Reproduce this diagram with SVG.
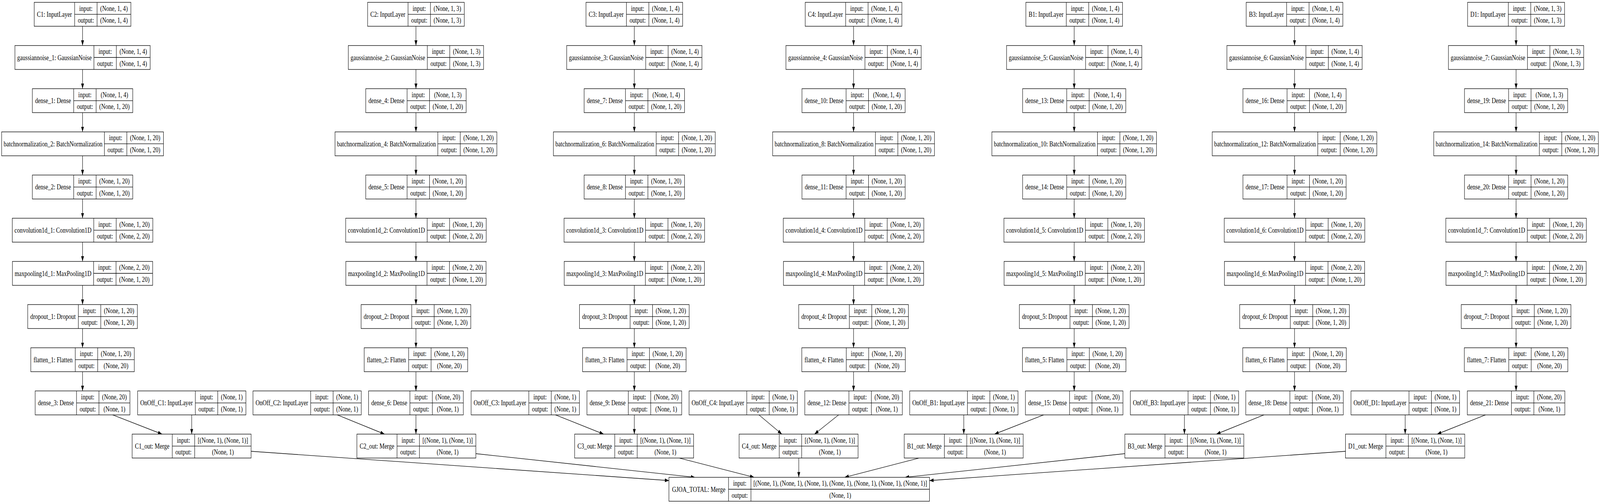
<svg xmlns="http://www.w3.org/2000/svg" width="5243" height="1291" viewBox="0 0 5243 1291" preserveAspectRatio="none" style="display:block;width:100vw;height:100vh">
<style>
.n rect{fill:#fff;stroke:#000;stroke-width:1.33}
.n path{fill:none;stroke:#000;stroke-width:1.33}
.n text{font-family:"Liberation Serif","Times New Roman",serif;font-size:18.67px;text-anchor:middle;fill:#000}
#edges line{stroke:#000;stroke-width:1.33;marker-end:url(#ah)}
</style>
<defs>
<marker id="ah" markerUnits="userSpaceOnUse" markerWidth="14" markerHeight="10" viewBox="0 0 14 10" refX="13.3" refY="5" orient="auto"><path d="M0,0.3L13.3,5L0,9.7z" fill="#000"/></marker>
</defs>
<rect width="5243" height="1291" fill="#fff"/>
<g id="edges">
<line x1="270.5" y1="67.3" x2="270.5" y2="116.6"/><line x1="270.5" y1="177.9" x2="270.5" y2="227.2"/><line x1="270.5" y1="288.5" x2="270.5" y2="337.8"/><line x1="270.5" y1="399.1" x2="270.5" y2="448.4"/><line x1="270.5" y1="509.7" x2="270.5" y2="559"/><line x1="270.5" y1="620.3" x2="270.5" y2="669.6"/><line x1="270.5" y1="730.9" x2="270.5" y2="780.2"/><line x1="270.5" y1="841.5" x2="270.5" y2="890.8"/><line x1="270.5" y1="952.1" x2="270.5" y2="1001.4"/>
<line x1="1363" y1="67.3" x2="1363" y2="116.6"/><line x1="1363" y1="177.9" x2="1363" y2="227.2"/><line x1="1363" y1="288.5" x2="1363" y2="337.8"/><line x1="1363" y1="399.1" x2="1363" y2="448.4"/><line x1="1363" y1="509.7" x2="1363" y2="559"/><line x1="1363" y1="620.3" x2="1363" y2="669.6"/><line x1="1363" y1="730.9" x2="1363" y2="780.2"/><line x1="1363" y1="841.5" x2="1363" y2="890.8"/><line x1="1363" y1="952.1" x2="1363" y2="1001.4"/>
<line x1="2078.6" y1="67.3" x2="2078.6" y2="116.6"/><line x1="2078.6" y1="177.9" x2="2078.6" y2="227.2"/><line x1="2078.6" y1="288.5" x2="2078.6" y2="337.8"/><line x1="2078.6" y1="399.1" x2="2078.6" y2="448.4"/><line x1="2078.6" y1="509.7" x2="2078.6" y2="559"/><line x1="2078.6" y1="620.3" x2="2078.6" y2="669.6"/><line x1="2078.6" y1="730.9" x2="2078.6" y2="780.2"/><line x1="2078.6" y1="841.5" x2="2078.6" y2="890.8"/><line x1="2078.6" y1="952.1" x2="2078.6" y2="1001.4"/>
<line x1="2797" y1="67.3" x2="2797" y2="116.6"/><line x1="2797" y1="177.9" x2="2797" y2="227.2"/><line x1="2797" y1="288.5" x2="2797" y2="337.8"/><line x1="2797" y1="399.1" x2="2797" y2="448.4"/><line x1="2797" y1="509.7" x2="2797" y2="559"/><line x1="2797" y1="620.3" x2="2797" y2="669.6"/><line x1="2797" y1="730.9" x2="2797" y2="780.2"/><line x1="2797" y1="841.5" x2="2797" y2="890.8"/><line x1="2797" y1="952.1" x2="2797" y2="1001.4"/>
<line x1="3520" y1="67.3" x2="3520" y2="116.6"/><line x1="3520" y1="177.9" x2="3520" y2="227.2"/><line x1="3520" y1="288.5" x2="3520" y2="337.8"/><line x1="3520" y1="399.1" x2="3520" y2="448.4"/><line x1="3520" y1="509.7" x2="3520" y2="559"/><line x1="3520" y1="620.3" x2="3520" y2="669.6"/><line x1="3520" y1="730.9" x2="3520" y2="780.2"/><line x1="3520" y1="841.5" x2="3520" y2="890.8"/><line x1="3520" y1="952.1" x2="3520" y2="1001.4"/>
<line x1="4242" y1="67.3" x2="4242" y2="116.6"/><line x1="4242" y1="177.9" x2="4242" y2="227.2"/><line x1="4242" y1="288.5" x2="4242" y2="337.8"/><line x1="4242" y1="399.1" x2="4242" y2="448.4"/><line x1="4242" y1="509.7" x2="4242" y2="559"/><line x1="4242" y1="620.3" x2="4242" y2="669.6"/><line x1="4242" y1="730.9" x2="4242" y2="780.2"/><line x1="4242" y1="841.5" x2="4242" y2="890.8"/><line x1="4242" y1="952.1" x2="4242" y2="1001.4"/>
<line x1="4968" y1="67.3" x2="4968" y2="116.6"/><line x1="4968" y1="177.9" x2="4968" y2="227.2"/><line x1="4968" y1="288.5" x2="4968" y2="337.8"/><line x1="4968" y1="399.1" x2="4968" y2="448.4"/><line x1="4968" y1="509.7" x2="4968" y2="559"/><line x1="4968" y1="620.3" x2="4968" y2="669.6"/><line x1="4968" y1="730.9" x2="4968" y2="780.2"/><line x1="4968" y1="841.5" x2="4968" y2="890.8"/><line x1="4968" y1="952.1" x2="4968" y2="1001.4"/>
<line x1="369" y1="1062.7" x2="531" y2="1112"/>
<line x1="628.2" y1="1062.7" x2="628.2" y2="1112"/>
<line x1="1105" y1="1062.7" x2="1260" y2="1112"/>
<line x1="1363" y1="1062.7" x2="1363" y2="1112"/>
<line x1="1820" y1="1062.7" x2="1978" y2="1112"/>
<line x1="2078.6" y1="1062.7" x2="2078.6" y2="1112"/>
<line x1="2487" y1="1062.7" x2="2562" y2="1112"/>
<line x1="2748" y1="1062.7" x2="2669" y2="1112"/>
<line x1="3158.2" y1="1062.7" x2="3158.2" y2="1112"/>
<line x1="3420" y1="1062.7" x2="3259" y2="1112"/>
<line x1="3881.2" y1="1062.7" x2="3881.2" y2="1112"/>
<line x1="4142" y1="1062.7" x2="3986" y2="1112"/>
<line x1="4604.6" y1="1062.7" x2="4604.6" y2="1112"/>
<line x1="4868" y1="1062.7" x2="4709.5" y2="1112"/>
<line x1="823" y1="1156" x2="2192" y2="1231"/>
<line x1="1559" y1="1162" x2="2277" y2="1222.6"/>
<line x1="2226" y1="1173.3" x2="2471" y2="1222.6"/>
<line x1="2617.5" y1="1173.3" x2="2617.5" y2="1222.6"/>
<line x1="3011.5" y1="1173.3" x2="2768" y2="1222.6"/>
<line x1="3686" y1="1162" x2="2966" y2="1222.6"/>
<line x1="4409" y1="1156" x2="3045.8" y2="1231"/>
</g>

<g id="C1" class="n" transform="translate(112.1,6)"><rect width="316.75" height="61.3"/><path d="M132.5 0V61.3M206 0V61.3M132.5 30.65H316.75"/><text x="66.25" y="37">C1: InputLayer</text><text x="169.25" y="21.6">input:</text><text x="169.25" y="52.3">output:</text><text x="261.4" y="21.6">(None, 1, 4)</text><text x="261.4" y="52.3">(None, 1, 4)</text></g>
<g id="gaussiannoise_1" class="n" transform="translate(48.9,116.6)"><rect width="443.15" height="61.3"/><path d="M258.9 0V61.3M332.4 0V61.3M258.9 30.65H443.15"/><text x="129.45" y="37">gaussiannoise_1: GaussianNoise</text><text x="295.65" y="21.6">input:</text><text x="295.65" y="52.3">output:</text><text x="387.8" y="21.6">(None, 1, 4)</text><text x="387.8" y="52.3">(None, 1, 4)</text></g>
<g id="dense_1" class="n" transform="translate(106,227.2)"><rect width="329" height="61.3"/><path d="M135.5 0V61.3M209 0V61.3M135.5 30.65H329"/><text x="67.75" y="37">dense_1: Dense</text><text x="172.25" y="21.6">input:</text><text x="172.25" y="52.3">output:</text><text x="269" y="21.6">(None, 1, 4)</text><text x="269" y="52.3">(None, 1, 20)</text></g>
<g id="batchnormalization_2" class="n" transform="translate(5.35,337.8)"><rect width="530.3" height="61.3"/><path d="M336.8 0V61.3M410.3 0V61.3M336.8 30.65H530.3"/><text x="168.4" y="37">batchnormalization_2: BatchNormalization</text><text x="373.55" y="21.6">input:</text><text x="373.55" y="52.3">output:</text><text x="470.3" y="21.6">(None, 1, 20)</text><text x="470.3" y="52.3">(None, 1, 20)</text></g>
<g id="dense_2" class="n" transform="translate(106,448.4)"><rect width="329" height="61.3"/><path d="M135.5 0V61.3M209 0V61.3M135.5 30.65H329"/><text x="67.75" y="37">dense_2: Dense</text><text x="172.25" y="21.6">input:</text><text x="172.25" y="52.3">output:</text><text x="269" y="21.6">(None, 1, 20)</text><text x="269" y="52.3">(None, 1, 20)</text></g>
<g id="convolution1d_1" class="n" transform="translate(40.25,559)"><rect width="460.5" height="61.3"/><path d="M267 0V61.3M340.5 0V61.3M267 30.65H460.5"/><text x="133.5" y="37">convolution1d_1: Convolution1D</text><text x="303.75" y="21.6">input:</text><text x="303.75" y="52.3">output:</text><text x="400.5" y="21.6">(None, 1, 20)</text><text x="400.5" y="52.3">(None, 2, 20)</text></g>
<g id="maxpooling1d_1" class="n" transform="translate(40.75,669.6)"><rect width="459.5" height="61.3"/><path d="M266 0V61.3M339.5 0V61.3M266 30.65H459.5"/><text x="133" y="37">maxpooling1d_1: MaxPooling1D</text><text x="302.75" y="21.6">input:</text><text x="302.75" y="52.3">output:</text><text x="399.5" y="21.6">(None, 2, 20)</text><text x="399.5" y="52.3">(None, 1, 20)</text></g>
<g id="dropout_1" class="n" transform="translate(90.8,780.2)"><rect width="359.4" height="61.3"/><path d="M165.9 0V61.3M239.4 0V61.3M165.9 30.65H359.4"/><text x="82.95" y="37">dropout_1: Dropout</text><text x="202.65" y="21.6">input:</text><text x="202.65" y="52.3">output:</text><text x="299.4" y="21.6">(None, 1, 20)</text><text x="299.4" y="52.3">(None, 1, 20)</text></g>
<g id="flatten_1" class="n" transform="translate(100.9,890.8)"><rect width="339.2" height="61.3"/><path d="M145.7 0V61.3M219.2 0V61.3M145.7 30.65H339.2"/><text x="72.85" y="37">flatten_1: Flatten</text><text x="182.45" y="21.6">input:</text><text x="182.45" y="52.3">output:</text><text x="279.2" y="21.6">(None, 1, 20)</text><text x="279.2" y="52.3">(None, 20)</text></g>
<g id="dense_3" class="n" transform="translate(115.25,1001.4)"><rect width="310.5" height="61.3"/><path d="M135.5 0V61.3M209 0V61.3M135.5 30.65H310.5"/><text x="67.75" y="37">dense_3: Dense</text><text x="172.25" y="21.6">input:</text><text x="172.25" y="52.3">output:</text><text x="259.75" y="21.6">(None, 20)</text><text x="259.75" y="52.3">(None, 1)</text></g>

<g id="C2" class="n" transform="translate(1204.6,6)"><rect width="316.75" height="61.3"/><path d="M132.5 0V61.3M206 0V61.3M132.5 30.65H316.75"/><text x="66.25" y="37">C2: InputLayer</text><text x="169.25" y="21.6">input:</text><text x="169.25" y="52.3">output:</text><text x="261.4" y="21.6">(None, 1, 3)</text><text x="261.4" y="52.3">(None, 1, 3)</text></g>
<g id="gaussiannoise_2" class="n" transform="translate(1141.4,116.6)"><rect width="443.15" height="61.3"/><path d="M258.9 0V61.3M332.4 0V61.3M258.9 30.65H443.15"/><text x="129.45" y="37">gaussiannoise_2: GaussianNoise</text><text x="295.65" y="21.6">input:</text><text x="295.65" y="52.3">output:</text><text x="387.8" y="21.6">(None, 1, 3)</text><text x="387.8" y="52.3">(None, 1, 3)</text></g>
<g id="dense_4" class="n" transform="translate(1198.5,227.2)"><rect width="329" height="61.3"/><path d="M135.5 0V61.3M209 0V61.3M135.5 30.65H329"/><text x="67.75" y="37">dense_4: Dense</text><text x="172.25" y="21.6">input:</text><text x="172.25" y="52.3">output:</text><text x="269" y="21.6">(None, 1, 3)</text><text x="269" y="52.3">(None, 1, 20)</text></g>
<g id="batchnormalization_4" class="n" transform="translate(1097.85,337.8)"><rect width="530.3" height="61.3"/><path d="M336.8 0V61.3M410.3 0V61.3M336.8 30.65H530.3"/><text x="168.4" y="37">batchnormalization_4: BatchNormalization</text><text x="373.55" y="21.6">input:</text><text x="373.55" y="52.3">output:</text><text x="470.3" y="21.6">(None, 1, 20)</text><text x="470.3" y="52.3">(None, 1, 20)</text></g>
<g id="dense_5" class="n" transform="translate(1198.5,448.4)"><rect width="329" height="61.3"/><path d="M135.5 0V61.3M209 0V61.3M135.5 30.65H329"/><text x="67.75" y="37">dense_5: Dense</text><text x="172.25" y="21.6">input:</text><text x="172.25" y="52.3">output:</text><text x="269" y="21.6">(None, 1, 20)</text><text x="269" y="52.3">(None, 1, 20)</text></g>
<g id="convolution1d_2" class="n" transform="translate(1132.75,559)"><rect width="460.5" height="61.3"/><path d="M267 0V61.3M340.5 0V61.3M267 30.65H460.5"/><text x="133.5" y="37">convolution1d_2: Convolution1D</text><text x="303.75" y="21.6">input:</text><text x="303.75" y="52.3">output:</text><text x="400.5" y="21.6">(None, 1, 20)</text><text x="400.5" y="52.3">(None, 2, 20)</text></g>
<g id="maxpooling1d_2" class="n" transform="translate(1133.25,669.6)"><rect width="459.5" height="61.3"/><path d="M266 0V61.3M339.5 0V61.3M266 30.65H459.5"/><text x="133" y="37">maxpooling1d_2: MaxPooling1D</text><text x="302.75" y="21.6">input:</text><text x="302.75" y="52.3">output:</text><text x="399.5" y="21.6">(None, 2, 20)</text><text x="399.5" y="52.3">(None, 1, 20)</text></g>
<g id="dropout_2" class="n" transform="translate(1183.3,780.2)"><rect width="359.4" height="61.3"/><path d="M165.9 0V61.3M239.4 0V61.3M165.9 30.65H359.4"/><text x="82.95" y="37">dropout_2: Dropout</text><text x="202.65" y="21.6">input:</text><text x="202.65" y="52.3">output:</text><text x="299.4" y="21.6">(None, 1, 20)</text><text x="299.4" y="52.3">(None, 1, 20)</text></g>
<g id="flatten_2" class="n" transform="translate(1193.4,890.8)"><rect width="339.2" height="61.3"/><path d="M145.7 0V61.3M219.2 0V61.3M145.7 30.65H339.2"/><text x="72.85" y="37">flatten_2: Flatten</text><text x="182.45" y="21.6">input:</text><text x="182.45" y="52.3">output:</text><text x="279.2" y="21.6">(None, 1, 20)</text><text x="279.2" y="52.3">(None, 20)</text></g>
<g id="dense_6" class="n" transform="translate(1207.75,1001.4)"><rect width="310.5" height="61.3"/><path d="M135.5 0V61.3M209 0V61.3M135.5 30.65H310.5"/><text x="67.75" y="37">dense_6: Dense</text><text x="172.25" y="21.6">input:</text><text x="172.25" y="52.3">output:</text><text x="259.75" y="21.6">(None, 20)</text><text x="259.75" y="52.3">(None, 1)</text></g>

<g id="C3" class="n" transform="translate(1920.2,6)"><rect width="316.75" height="61.3"/><path d="M132.5 0V61.3M206 0V61.3M132.5 30.65H316.75"/><text x="66.25" y="37">C3: InputLayer</text><text x="169.25" y="21.6">input:</text><text x="169.25" y="52.3">output:</text><text x="261.4" y="21.6">(None, 1, 4)</text><text x="261.4" y="52.3">(None, 1, 4)</text></g>
<g id="gaussiannoise_3" class="n" transform="translate(1857,116.6)"><rect width="443.15" height="61.3"/><path d="M258.9 0V61.3M332.4 0V61.3M258.9 30.65H443.15"/><text x="129.45" y="37">gaussiannoise_3: GaussianNoise</text><text x="295.65" y="21.6">input:</text><text x="295.65" y="52.3">output:</text><text x="387.8" y="21.6">(None, 1, 4)</text><text x="387.8" y="52.3">(None, 1, 4)</text></g>
<g id="dense_7" class="n" transform="translate(1914.1,227.2)"><rect width="329" height="61.3"/><path d="M135.5 0V61.3M209 0V61.3M135.5 30.65H329"/><text x="67.75" y="37">dense_7: Dense</text><text x="172.25" y="21.6">input:</text><text x="172.25" y="52.3">output:</text><text x="269" y="21.6">(None, 1, 4)</text><text x="269" y="52.3">(None, 1, 20)</text></g>
<g id="batchnormalization_6" class="n" transform="translate(1813.45,337.8)"><rect width="530.3" height="61.3"/><path d="M336.8 0V61.3M410.3 0V61.3M336.8 30.65H530.3"/><text x="168.4" y="37">batchnormalization_6: BatchNormalization</text><text x="373.55" y="21.6">input:</text><text x="373.55" y="52.3">output:</text><text x="470.3" y="21.6">(None, 1, 20)</text><text x="470.3" y="52.3">(None, 1, 20)</text></g>
<g id="dense_8" class="n" transform="translate(1914.1,448.4)"><rect width="329" height="61.3"/><path d="M135.5 0V61.3M209 0V61.3M135.5 30.65H329"/><text x="67.75" y="37">dense_8: Dense</text><text x="172.25" y="21.6">input:</text><text x="172.25" y="52.3">output:</text><text x="269" y="21.6">(None, 1, 20)</text><text x="269" y="52.3">(None, 1, 20)</text></g>
<g id="convolution1d_3" class="n" transform="translate(1848.35,559)"><rect width="460.5" height="61.3"/><path d="M267 0V61.3M340.5 0V61.3M267 30.65H460.5"/><text x="133.5" y="37">convolution1d_3: Convolution1D</text><text x="303.75" y="21.6">input:</text><text x="303.75" y="52.3">output:</text><text x="400.5" y="21.6">(None, 1, 20)</text><text x="400.5" y="52.3">(None, 2, 20)</text></g>
<g id="maxpooling1d_3" class="n" transform="translate(1848.85,669.6)"><rect width="459.5" height="61.3"/><path d="M266 0V61.3M339.5 0V61.3M266 30.65H459.5"/><text x="133" y="37">maxpooling1d_3: MaxPooling1D</text><text x="302.75" y="21.6">input:</text><text x="302.75" y="52.3">output:</text><text x="399.5" y="21.6">(None, 2, 20)</text><text x="399.5" y="52.3">(None, 1, 20)</text></g>
<g id="dropout_3" class="n" transform="translate(1898.9,780.2)"><rect width="359.4" height="61.3"/><path d="M165.9 0V61.3M239.4 0V61.3M165.9 30.65H359.4"/><text x="82.95" y="37">dropout_3: Dropout</text><text x="202.65" y="21.6">input:</text><text x="202.65" y="52.3">output:</text><text x="299.4" y="21.6">(None, 1, 20)</text><text x="299.4" y="52.3">(None, 1, 20)</text></g>
<g id="flatten_3" class="n" transform="translate(1909,890.8)"><rect width="339.2" height="61.3"/><path d="M145.7 0V61.3M219.2 0V61.3M145.7 30.65H339.2"/><text x="72.85" y="37">flatten_3: Flatten</text><text x="182.45" y="21.6">input:</text><text x="182.45" y="52.3">output:</text><text x="279.2" y="21.6">(None, 1, 20)</text><text x="279.2" y="52.3">(None, 20)</text></g>
<g id="dense_9" class="n" transform="translate(1923.35,1001.4)"><rect width="310.5" height="61.3"/><path d="M135.5 0V61.3M209 0V61.3M135.5 30.65H310.5"/><text x="67.75" y="37">dense_9: Dense</text><text x="172.25" y="21.6">input:</text><text x="172.25" y="52.3">output:</text><text x="259.75" y="21.6">(None, 20)</text><text x="259.75" y="52.3">(None, 1)</text></g>

<g id="C4" class="n" transform="translate(2638.6,6)"><rect width="316.75" height="61.3"/><path d="M132.5 0V61.3M206 0V61.3M132.5 30.65H316.75"/><text x="66.25" y="37">C4: InputLayer</text><text x="169.25" y="21.6">input:</text><text x="169.25" y="52.3">output:</text><text x="261.4" y="21.6">(None, 1, 4)</text><text x="261.4" y="52.3">(None, 1, 4)</text></g>
<g id="gaussiannoise_4" class="n" transform="translate(2575.4,116.6)"><rect width="443.15" height="61.3"/><path d="M258.9 0V61.3M332.4 0V61.3M258.9 30.65H443.15"/><text x="129.45" y="37">gaussiannoise_4: GaussianNoise</text><text x="295.65" y="21.6">input:</text><text x="295.65" y="52.3">output:</text><text x="387.8" y="21.6">(None, 1, 4)</text><text x="387.8" y="52.3">(None, 1, 4)</text></g>
<g id="dense_10" class="n" transform="translate(2627.95,227.2)"><rect width="338.1" height="61.3"/><path d="M144.6 0V61.3M218.1 0V61.3M144.6 30.65H338.1"/><text x="72.3" y="37">dense_10: Dense</text><text x="181.35" y="21.6">input:</text><text x="181.35" y="52.3">output:</text><text x="278.1" y="21.6">(None, 1, 4)</text><text x="278.1" y="52.3">(None, 1, 20)</text></g>
<g id="batchnormalization_8" class="n" transform="translate(2531.85,337.8)"><rect width="530.3" height="61.3"/><path d="M336.8 0V61.3M410.3 0V61.3M336.8 30.65H530.3"/><text x="168.4" y="37">batchnormalization_8: BatchNormalization</text><text x="373.55" y="21.6">input:</text><text x="373.55" y="52.3">output:</text><text x="470.3" y="21.6">(None, 1, 20)</text><text x="470.3" y="52.3">(None, 1, 20)</text></g>
<g id="dense_11" class="n" transform="translate(2627.95,448.4)"><rect width="338.1" height="61.3"/><path d="M144.6 0V61.3M218.1 0V61.3M144.6 30.65H338.1"/><text x="72.3" y="37">dense_11: Dense</text><text x="181.35" y="21.6">input:</text><text x="181.35" y="52.3">output:</text><text x="278.1" y="21.6">(None, 1, 20)</text><text x="278.1" y="52.3">(None, 1, 20)</text></g>
<g id="convolution1d_4" class="n" transform="translate(2566.75,559)"><rect width="460.5" height="61.3"/><path d="M267 0V61.3M340.5 0V61.3M267 30.65H460.5"/><text x="133.5" y="37">convolution1d_4: Convolution1D</text><text x="303.75" y="21.6">input:</text><text x="303.75" y="52.3">output:</text><text x="400.5" y="21.6">(None, 1, 20)</text><text x="400.5" y="52.3">(None, 2, 20)</text></g>
<g id="maxpooling1d_4" class="n" transform="translate(2567.25,669.6)"><rect width="459.5" height="61.3"/><path d="M266 0V61.3M339.5 0V61.3M266 30.65H459.5"/><text x="133" y="37">maxpooling1d_4: MaxPooling1D</text><text x="302.75" y="21.6">input:</text><text x="302.75" y="52.3">output:</text><text x="399.5" y="21.6">(None, 2, 20)</text><text x="399.5" y="52.3">(None, 1, 20)</text></g>
<g id="dropout_4" class="n" transform="translate(2617.3,780.2)"><rect width="359.4" height="61.3"/><path d="M165.9 0V61.3M239.4 0V61.3M165.9 30.65H359.4"/><text x="82.95" y="37">dropout_4: Dropout</text><text x="202.65" y="21.6">input:</text><text x="202.65" y="52.3">output:</text><text x="299.4" y="21.6">(None, 1, 20)</text><text x="299.4" y="52.3">(None, 1, 20)</text></g>
<g id="flatten_4" class="n" transform="translate(2627.4,890.8)"><rect width="339.2" height="61.3"/><path d="M145.7 0V61.3M219.2 0V61.3M145.7 30.65H339.2"/><text x="72.85" y="37">flatten_4: Flatten</text><text x="182.45" y="21.6">input:</text><text x="182.45" y="52.3">output:</text><text x="279.2" y="21.6">(None, 1, 20)</text><text x="279.2" y="52.3">(None, 20)</text></g>
<g id="dense_12" class="n" transform="translate(2637.2,1001.4)"><rect width="319.6" height="61.3"/><path d="M144.6 0V61.3M218.1 0V61.3M144.6 30.65H319.6"/><text x="72.3" y="37">dense_12: Dense</text><text x="181.35" y="21.6">input:</text><text x="181.35" y="52.3">output:</text><text x="268.85" y="21.6">(None, 20)</text><text x="268.85" y="52.3">(None, 1)</text></g>

<g id="B1" class="n" transform="translate(3361.6,6)"><rect width="316.75" height="61.3"/><path d="M132.5 0V61.3M206 0V61.3M132.5 30.65H316.75"/><text x="66.25" y="37">B1: InputLayer</text><text x="169.25" y="21.6">input:</text><text x="169.25" y="52.3">output:</text><text x="261.4" y="21.6">(None, 1, 4)</text><text x="261.4" y="52.3">(None, 1, 4)</text></g>
<g id="gaussiannoise_5" class="n" transform="translate(3298.4,116.6)"><rect width="443.15" height="61.3"/><path d="M258.9 0V61.3M332.4 0V61.3M258.9 30.65H443.15"/><text x="129.45" y="37">gaussiannoise_5: GaussianNoise</text><text x="295.65" y="21.6">input:</text><text x="295.65" y="52.3">output:</text><text x="387.8" y="21.6">(None, 1, 4)</text><text x="387.8" y="52.3">(None, 1, 4)</text></g>
<g id="dense_13" class="n" transform="translate(3350.95,227.2)"><rect width="338.1" height="61.3"/><path d="M144.6 0V61.3M218.1 0V61.3M144.6 30.65H338.1"/><text x="72.3" y="37">dense_13: Dense</text><text x="181.35" y="21.6">input:</text><text x="181.35" y="52.3">output:</text><text x="278.1" y="21.6">(None, 1, 4)</text><text x="278.1" y="52.3">(None, 1, 20)</text></g>
<g id="batchnormalization_10" class="n" transform="translate(3250.3,337.8)"><rect width="539.4" height="61.3"/><path d="M345.9 0V61.3M419.4 0V61.3M345.9 30.65H539.4"/><text x="172.95" y="37">batchnormalization_10: BatchNormalization</text><text x="382.65" y="21.6">input:</text><text x="382.65" y="52.3">output:</text><text x="479.4" y="21.6">(None, 1, 20)</text><text x="479.4" y="52.3">(None, 1, 20)</text></g>
<g id="dense_14" class="n" transform="translate(3350.95,448.4)"><rect width="338.1" height="61.3"/><path d="M144.6 0V61.3M218.1 0V61.3M144.6 30.65H338.1"/><text x="72.3" y="37">dense_14: Dense</text><text x="181.35" y="21.6">input:</text><text x="181.35" y="52.3">output:</text><text x="278.1" y="21.6">(None, 1, 20)</text><text x="278.1" y="52.3">(None, 1, 20)</text></g>
<g id="convolution1d_5" class="n" transform="translate(3289.75,559)"><rect width="460.5" height="61.3"/><path d="M267 0V61.3M340.5 0V61.3M267 30.65H460.5"/><text x="133.5" y="37">convolution1d_5: Convolution1D</text><text x="303.75" y="21.6">input:</text><text x="303.75" y="52.3">output:</text><text x="400.5" y="21.6">(None, 1, 20)</text><text x="400.5" y="52.3">(None, 2, 20)</text></g>
<g id="maxpooling1d_5" class="n" transform="translate(3290.25,669.6)"><rect width="459.5" height="61.3"/><path d="M266 0V61.3M339.5 0V61.3M266 30.65H459.5"/><text x="133" y="37">maxpooling1d_5: MaxPooling1D</text><text x="302.75" y="21.6">input:</text><text x="302.75" y="52.3">output:</text><text x="399.5" y="21.6">(None, 2, 20)</text><text x="399.5" y="52.3">(None, 1, 20)</text></g>
<g id="dropout_5" class="n" transform="translate(3340.3,780.2)"><rect width="359.4" height="61.3"/><path d="M165.9 0V61.3M239.4 0V61.3M165.9 30.65H359.4"/><text x="82.95" y="37">dropout_5: Dropout</text><text x="202.65" y="21.6">input:</text><text x="202.65" y="52.3">output:</text><text x="299.4" y="21.6">(None, 1, 20)</text><text x="299.4" y="52.3">(None, 1, 20)</text></g>
<g id="flatten_5" class="n" transform="translate(3350.4,890.8)"><rect width="339.2" height="61.3"/><path d="M145.7 0V61.3M219.2 0V61.3M145.7 30.65H339.2"/><text x="72.85" y="37">flatten_5: Flatten</text><text x="182.45" y="21.6">input:</text><text x="182.45" y="52.3">output:</text><text x="279.2" y="21.6">(None, 1, 20)</text><text x="279.2" y="52.3">(None, 20)</text></g>
<g id="dense_15" class="n" transform="translate(3360.2,1001.4)"><rect width="319.6" height="61.3"/><path d="M144.6 0V61.3M218.1 0V61.3M144.6 30.65H319.6"/><text x="72.3" y="37">dense_15: Dense</text><text x="181.35" y="21.6">input:</text><text x="181.35" y="52.3">output:</text><text x="268.85" y="21.6">(None, 20)</text><text x="268.85" y="52.3">(None, 1)</text></g>

<g id="B3" class="n" transform="translate(4083.6,6)"><rect width="316.75" height="61.3"/><path d="M132.5 0V61.3M206 0V61.3M132.5 30.65H316.75"/><text x="66.25" y="37">B3: InputLayer</text><text x="169.25" y="21.6">input:</text><text x="169.25" y="52.3">output:</text><text x="261.4" y="21.6">(None, 1, 4)</text><text x="261.4" y="52.3">(None, 1, 4)</text></g>
<g id="gaussiannoise_6" class="n" transform="translate(4020.4,116.6)"><rect width="443.15" height="61.3"/><path d="M258.9 0V61.3M332.4 0V61.3M258.9 30.65H443.15"/><text x="129.45" y="37">gaussiannoise_6: GaussianNoise</text><text x="295.65" y="21.6">input:</text><text x="295.65" y="52.3">output:</text><text x="387.8" y="21.6">(None, 1, 4)</text><text x="387.8" y="52.3">(None, 1, 4)</text></g>
<g id="dense_16" class="n" transform="translate(4072.95,227.2)"><rect width="338.1" height="61.3"/><path d="M144.6 0V61.3M218.1 0V61.3M144.6 30.65H338.1"/><text x="72.3" y="37">dense_16: Dense</text><text x="181.35" y="21.6">input:</text><text x="181.35" y="52.3">output:</text><text x="278.1" y="21.6">(None, 1, 4)</text><text x="278.1" y="52.3">(None, 1, 20)</text></g>
<g id="batchnormalization_12" class="n" transform="translate(3972.3,337.8)"><rect width="539.4" height="61.3"/><path d="M345.9 0V61.3M419.4 0V61.3M345.9 30.65H539.4"/><text x="172.95" y="37">batchnormalization_12: BatchNormalization</text><text x="382.65" y="21.6">input:</text><text x="382.65" y="52.3">output:</text><text x="479.4" y="21.6">(None, 1, 20)</text><text x="479.4" y="52.3">(None, 1, 20)</text></g>
<g id="dense_17" class="n" transform="translate(4072.95,448.4)"><rect width="338.1" height="61.3"/><path d="M144.6 0V61.3M218.1 0V61.3M144.6 30.65H338.1"/><text x="72.3" y="37">dense_17: Dense</text><text x="181.35" y="21.6">input:</text><text x="181.35" y="52.3">output:</text><text x="278.1" y="21.6">(None, 1, 20)</text><text x="278.1" y="52.3">(None, 1, 20)</text></g>
<g id="convolution1d_6" class="n" transform="translate(4011.75,559)"><rect width="460.5" height="61.3"/><path d="M267 0V61.3M340.5 0V61.3M267 30.65H460.5"/><text x="133.5" y="37">convolution1d_6: Convolution1D</text><text x="303.75" y="21.6">input:</text><text x="303.75" y="52.3">output:</text><text x="400.5" y="21.6">(None, 1, 20)</text><text x="400.5" y="52.3">(None, 2, 20)</text></g>
<g id="maxpooling1d_6" class="n" transform="translate(4012.25,669.6)"><rect width="459.5" height="61.3"/><path d="M266 0V61.3M339.5 0V61.3M266 30.65H459.5"/><text x="133" y="37">maxpooling1d_6: MaxPooling1D</text><text x="302.75" y="21.6">input:</text><text x="302.75" y="52.3">output:</text><text x="399.5" y="21.6">(None, 2, 20)</text><text x="399.5" y="52.3">(None, 1, 20)</text></g>
<g id="dropout_6" class="n" transform="translate(4062.3,780.2)"><rect width="359.4" height="61.3"/><path d="M165.9 0V61.3M239.4 0V61.3M165.9 30.65H359.4"/><text x="82.95" y="37">dropout_6: Dropout</text><text x="202.65" y="21.6">input:</text><text x="202.65" y="52.3">output:</text><text x="299.4" y="21.6">(None, 1, 20)</text><text x="299.4" y="52.3">(None, 1, 20)</text></g>
<g id="flatten_6" class="n" transform="translate(4072.4,890.8)"><rect width="339.2" height="61.3"/><path d="M145.7 0V61.3M219.2 0V61.3M145.7 30.65H339.2"/><text x="72.85" y="37">flatten_6: Flatten</text><text x="182.45" y="21.6">input:</text><text x="182.45" y="52.3">output:</text><text x="279.2" y="21.6">(None, 1, 20)</text><text x="279.2" y="52.3">(None, 20)</text></g>
<g id="dense_18" class="n" transform="translate(4082.2,1001.4)"><rect width="319.6" height="61.3"/><path d="M144.6 0V61.3M218.1 0V61.3M144.6 30.65H319.6"/><text x="72.3" y="37">dense_18: Dense</text><text x="181.35" y="21.6">input:</text><text x="181.35" y="52.3">output:</text><text x="268.85" y="21.6">(None, 20)</text><text x="268.85" y="52.3">(None, 1)</text></g>

<g id="D1" class="n" transform="translate(4809.1,6)"><rect width="317.75" height="61.3"/><path d="M133.5 0V61.3M207 0V61.3M133.5 30.65H317.75"/><text x="66.75" y="37">D1: InputLayer</text><text x="170.25" y="21.6">input:</text><text x="170.25" y="52.3">output:</text><text x="262.4" y="21.6">(None, 1, 3)</text><text x="262.4" y="52.3">(None, 1, 3)</text></g>
<g id="gaussiannoise_7" class="n" transform="translate(4746.4,116.6)"><rect width="443.15" height="61.3"/><path d="M258.9 0V61.3M332.4 0V61.3M258.9 30.65H443.15"/><text x="129.45" y="37">gaussiannoise_7: GaussianNoise</text><text x="295.65" y="21.6">input:</text><text x="295.65" y="52.3">output:</text><text x="387.8" y="21.6">(None, 1, 3)</text><text x="387.8" y="52.3">(None, 1, 3)</text></g>
<g id="dense_19" class="n" transform="translate(4798.95,227.2)"><rect width="338.1" height="61.3"/><path d="M144.6 0V61.3M218.1 0V61.3M144.6 30.65H338.1"/><text x="72.3" y="37">dense_19: Dense</text><text x="181.35" y="21.6">input:</text><text x="181.35" y="52.3">output:</text><text x="278.1" y="21.6">(None, 1, 3)</text><text x="278.1" y="52.3">(None, 1, 20)</text></g>
<g id="batchnormalization_14" class="n" transform="translate(4698.3,337.8)"><rect width="539.4" height="61.3"/><path d="M345.9 0V61.3M419.4 0V61.3M345.9 30.65H539.4"/><text x="172.95" y="37">batchnormalization_14: BatchNormalization</text><text x="382.65" y="21.6">input:</text><text x="382.65" y="52.3">output:</text><text x="479.4" y="21.6">(None, 1, 20)</text><text x="479.4" y="52.3">(None, 1, 20)</text></g>
<g id="dense_20" class="n" transform="translate(4798.95,448.4)"><rect width="338.1" height="61.3"/><path d="M144.6 0V61.3M218.1 0V61.3M144.6 30.65H338.1"/><text x="72.3" y="37">dense_20: Dense</text><text x="181.35" y="21.6">input:</text><text x="181.35" y="52.3">output:</text><text x="278.1" y="21.6">(None, 1, 20)</text><text x="278.1" y="52.3">(None, 1, 20)</text></g>
<g id="convolution1d_7" class="n" transform="translate(4737.75,559)"><rect width="460.5" height="61.3"/><path d="M267 0V61.3M340.5 0V61.3M267 30.65H460.5"/><text x="133.5" y="37">convolution1d_7: Convolution1D</text><text x="303.75" y="21.6">input:</text><text x="303.75" y="52.3">output:</text><text x="400.5" y="21.6">(None, 1, 20)</text><text x="400.5" y="52.3">(None, 2, 20)</text></g>
<g id="maxpooling1d_7" class="n" transform="translate(4738.25,669.6)"><rect width="459.5" height="61.3"/><path d="M266 0V61.3M339.5 0V61.3M266 30.65H459.5"/><text x="133" y="37">maxpooling1d_7: MaxPooling1D</text><text x="302.75" y="21.6">input:</text><text x="302.75" y="52.3">output:</text><text x="399.5" y="21.6">(None, 2, 20)</text><text x="399.5" y="52.3">(None, 1, 20)</text></g>
<g id="dropout_7" class="n" transform="translate(4788.3,780.2)"><rect width="359.4" height="61.3"/><path d="M165.9 0V61.3M239.4 0V61.3M165.9 30.65H359.4"/><text x="82.95" y="37">dropout_7: Dropout</text><text x="202.65" y="21.6">input:</text><text x="202.65" y="52.3">output:</text><text x="299.4" y="21.6">(None, 1, 20)</text><text x="299.4" y="52.3">(None, 1, 20)</text></g>
<g id="flatten_7" class="n" transform="translate(4798.4,890.8)"><rect width="339.2" height="61.3"/><path d="M145.7 0V61.3M219.2 0V61.3M145.7 30.65H339.2"/><text x="72.85" y="37">flatten_7: Flatten</text><text x="182.45" y="21.6">input:</text><text x="182.45" y="52.3">output:</text><text x="279.2" y="21.6">(None, 1, 20)</text><text x="279.2" y="52.3">(None, 20)</text></g>
<g id="dense_21" class="n" transform="translate(4808.2,1001.4)"><rect width="319.6" height="61.3"/><path d="M144.6 0V61.3M218.1 0V61.3M144.6 30.65H319.6"/><text x="72.3" y="37">dense_21: Dense</text><text x="181.35" y="21.6">input:</text><text x="181.35" y="52.3">output:</text><text x="268.85" y="21.6">(None, 20)</text><text x="268.85" y="52.3">(None, 1)</text></g>

<g id="OnOff_C1" class="n" transform="translate(451,1001.4)"><rect width="354.8" height="61.3"/><path d="M189.1 0V61.3M262.6 0V61.3M189.1 30.65H354.8"/><text x="94.55" y="37">OnOff_C1: InputLayer</text><text x="225.85" y="21.6">input:</text><text x="225.85" y="52.3">output:</text><text x="308.7" y="21.6">(None, 1)</text><text x="308.7" y="52.3">(None, 1)</text></g>
<g id="OnOff_C2" class="n" transform="translate(829,1001.4)"><rect width="354.8" height="61.3"/><path d="M189.1 0V61.3M262.6 0V61.3M189.1 30.65H354.8"/><text x="94.55" y="37">OnOff_C2: InputLayer</text><text x="225.85" y="21.6">input:</text><text x="225.85" y="52.3">output:</text><text x="308.7" y="21.6">(None, 1)</text><text x="308.7" y="52.3">(None, 1)</text></g>
<g id="OnOff_C3" class="n" transform="translate(1543.8,1001.4)"><rect width="354.8" height="61.3"/><path d="M189.1 0V61.3M262.6 0V61.3M189.1 30.65H354.8"/><text x="94.55" y="37">OnOff_C3: InputLayer</text><text x="225.85" y="21.6">input:</text><text x="225.85" y="52.3">output:</text><text x="308.7" y="21.6">(None, 1)</text><text x="308.7" y="52.3">(None, 1)</text></g>
<g id="OnOff_C4" class="n" transform="translate(2258,1001.4)"><rect width="354.8" height="61.3"/><path d="M189.1 0V61.3M262.6 0V61.3M189.1 30.65H354.8"/><text x="94.55" y="37">OnOff_C4: InputLayer</text><text x="225.85" y="21.6">input:</text><text x="225.85" y="52.3">output:</text><text x="308.7" y="21.6">(None, 1)</text><text x="308.7" y="52.3">(None, 1)</text></g>
<g id="OnOff_B1" class="n" transform="translate(2981,1001.4)"><rect width="354.8" height="61.3"/><path d="M189.1 0V61.3M262.6 0V61.3M189.1 30.65H354.8"/><text x="94.55" y="37">OnOff_B1: InputLayer</text><text x="225.85" y="21.6">input:</text><text x="225.85" y="52.3">output:</text><text x="308.7" y="21.6">(None, 1)</text><text x="308.7" y="52.3">(None, 1)</text></g>
<g id="OnOff_B3" class="n" transform="translate(3704,1001.4)"><rect width="354.8" height="61.3"/><path d="M189.1 0V61.3M262.6 0V61.3M189.1 30.65H354.8"/><text x="94.55" y="37">OnOff_B3: InputLayer</text><text x="225.85" y="21.6">input:</text><text x="225.85" y="52.3">output:</text><text x="308.7" y="21.6">(None, 1)</text><text x="308.7" y="52.3">(None, 1)</text></g>
<g id="OnOff_D1" class="n" transform="translate(4427,1001.4)"><rect width="355.8" height="61.3"/><path d="M190.1 0V61.3M263.6 0V61.3M190.1 30.65H355.8"/><text x="95.05" y="37">OnOff_D1: InputLayer</text><text x="226.85" y="21.6">input:</text><text x="226.85" y="52.3">output:</text><text x="309.7" y="21.6">(None, 1)</text><text x="309.7" y="52.3">(None, 1)</text></g>

<g id="C1_out" class="n" transform="translate(433,1112)"><rect width="389.8" height="61.3"/><path d="M131.5 0V61.3M205 0V61.3M131.5 30.65H389.8"/><text x="65.75" y="37">C1_out: Merge</text><text x="168.25" y="21.6">input:</text><text x="168.25" y="52.3">output:</text><text x="297.4" y="21.6">[(None, 1), (None, 1)]</text><text x="297.4" y="52.3">(None, 1)</text></g>
<g id="C2_out" class="n" transform="translate(1169.5,1112)"><rect width="389.8" height="61.3"/><path d="M131.5 0V61.3M205 0V61.3M131.5 30.65H389.8"/><text x="65.75" y="37">C2_out: Merge</text><text x="168.25" y="21.6">input:</text><text x="168.25" y="52.3">output:</text><text x="297.4" y="21.6">[(None, 1), (None, 1)]</text><text x="297.4" y="52.3">(None, 1)</text></g>
<g id="C3_out" class="n" transform="translate(1883,1112)"><rect width="389.8" height="61.3"/><path d="M131.5 0V61.3M205 0V61.3M131.5 30.65H389.8"/><text x="65.75" y="37">C3_out: Merge</text><text x="168.25" y="21.6">input:</text><text x="168.25" y="52.3">output:</text><text x="297.4" y="21.6">[(None, 1), (None, 1)]</text><text x="297.4" y="52.3">(None, 1)</text></g>
<g id="C4_out" class="n" transform="translate(2422,1112)"><rect width="389.8" height="61.3"/><path d="M131.5 0V61.3M205 0V61.3M131.5 30.65H389.8"/><text x="65.75" y="37">C4_out: Merge</text><text x="168.25" y="21.6">input:</text><text x="168.25" y="52.3">output:</text><text x="297.4" y="21.6">[(None, 1), (None, 1)]</text><text x="297.4" y="52.3">(None, 1)</text></g>
<g id="B1_out" class="n" transform="translate(2963,1112)"><rect width="389.8" height="61.3"/><path d="M131.5 0V61.3M205 0V61.3M131.5 30.65H389.8"/><text x="65.75" y="37">B1_out: Merge</text><text x="168.25" y="21.6">input:</text><text x="168.25" y="52.3">output:</text><text x="297.4" y="21.6">[(None, 1), (None, 1)]</text><text x="297.4" y="52.3">(None, 1)</text></g>
<g id="B3_out" class="n" transform="translate(3686,1112)"><rect width="389.8" height="61.3"/><path d="M131.5 0V61.3M205 0V61.3M131.5 30.65H389.8"/><text x="65.75" y="37">B3_out: Merge</text><text x="168.25" y="21.6">input:</text><text x="168.25" y="52.3">output:</text><text x="297.4" y="21.6">[(None, 1), (None, 1)]</text><text x="297.4" y="52.3">(None, 1)</text></g>
<g id="D1_out" class="n" transform="translate(4409,1112)"><rect width="390.8" height="61.3"/><path d="M132.5 0V61.3M206 0V61.3M132.5 30.65H390.8"/><text x="66.25" y="37">D1_out: Merge</text><text x="169.25" y="21.6">input:</text><text x="169.25" y="52.3">output:</text><text x="298.4" y="21.6">[(None, 1), (None, 1)]</text><text x="298.4" y="52.3">(None, 1)</text></g>

<g id="GJOA_TOTAL" class="n" transform="translate(2192,1222.6)"><rect width="853.8" height="61.3"/><path d="M195.3 0V61.3M268.8 0V61.3M195.3 30.65H853.8"/><text x="97.65" y="37">GJOA_TOTAL: Merge</text><text x="232.05" y="21.6">input:</text><text x="232.05" y="52.3">output:</text><text x="561.3" y="21.6">[(None, 1), (None, 1), (None, 1), (None, 1), (None, 1), (None, 1), (None, 1)]</text><text x="561.3" y="52.3">(None, 1)</text></g>
</svg>
